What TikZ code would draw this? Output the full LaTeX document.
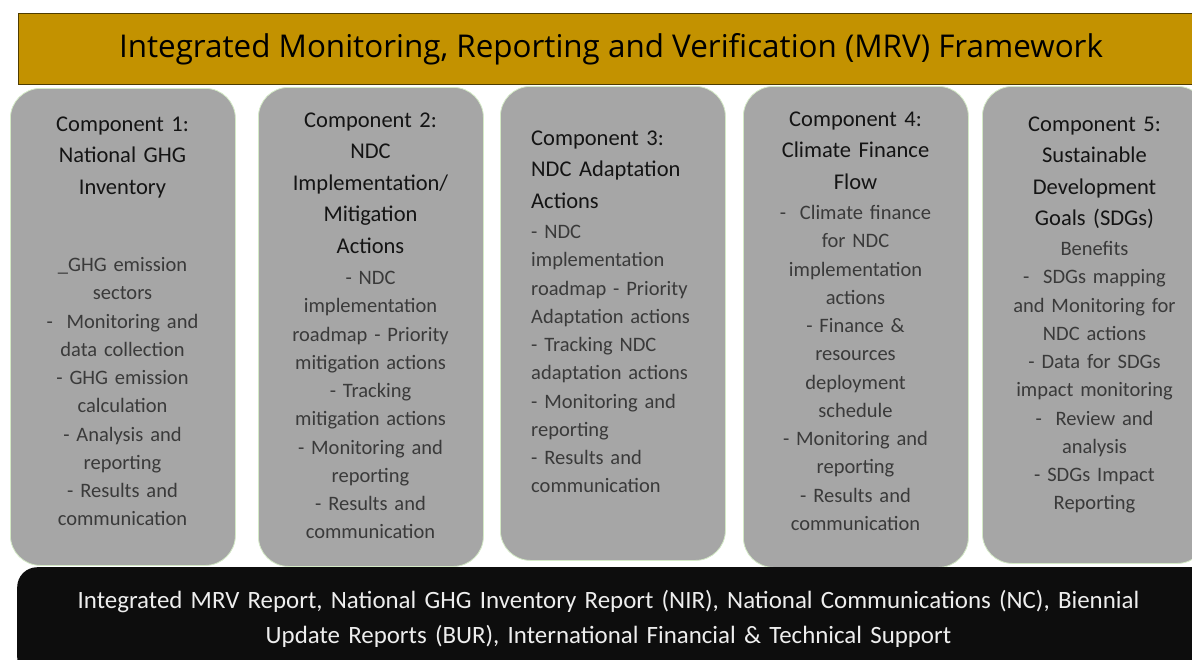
\documentclass[tikz,border=0pt]{standalone}
\usepackage{fontspec}
\setmainfont{Carlito}
\newfontfamily\titlefont{Open Sans}
\usepackage{tikz}
\usetikzlibrary{positioning}
\definecolor{titlegold}{RGB}{195, 146, 0}
\definecolor{titleedge}{RGB}{78, 60, 0}
\definecolor{compgray}{RGB}{166, 166, 166}
\definecolor{compedge}{RGB}{212, 234, 198}
\definecolor{reportblack}{RGB}{13, 13, 13}
\definecolor{headtext}{RGB}{20, 20, 20}
\definecolor{bodytext}{RGB}{58, 58, 58}
\definecolor{reporttext}{RGB}{238, 238, 238}

\begin{document}
\begin{tikzpicture}[
    x=1pt, y=-1pt,
    titlebar/.style={draw=titleedge, line width=1.3pt, fill=titlegold,
        anchor=north west, inner sep=0pt,
        minimum width=1190pt, minimum height=71pt},
    comp/.style={draw=compedge, line width=0.8pt, fill=compgray,
        rounded corners=30pt, anchor=north west, inner sep=0pt,
        minimum width=225pt},
    head/.style={text width=220pt, align=center, anchor=base, inner sep=0pt,
        text=headtext, font=\fontsize{22.5}{31.6}\selectfont},
    body/.style={text width=220pt, align=center, anchor=base, inner sep=0pt,
        text=bodytext, font=\fontsize{20.5}{28.25}\selectfont},
    report/.style={fill=reportblack, rounded corners=20pt,
        anchor=north west, inner sep=0pt,
        minimum width=1210pt, minimum height=110pt}
]
    \clip (0,0) rectangle (1192,659);

    % title bar
    \node[titlebar] (title) at (18,13) {};
    \node[anchor=base, inner sep=0pt, text=black,
        font=\titlefont\fontsize{31.4}{36}\selectfont] (titletext) at (611,57.5)
        {Integrated Monitoring, Reporting and Verification (MRV) Framework};

    % component boxes
    \node[comp, minimum height=477pt] (c1) at (10,88) {};
    \node[comp, minimum height=479pt] (c2) at (258,87) {};
    \node[comp, minimum height=474pt] (c3) at (500,86) {};
    \node[comp, minimum height=481pt] (c4) at (743,86) {};
    \node[comp, minimum height=477pt] (c5) at (982,86) {};

    % component 1
    \node[head] (h1) at (122.5,131) {Component 1:\\National GHG\\Inventory};
    \node[body] (b1) at (122.5,271.5) {\_GHG emission\\sectors\\-~ Monitoring and\\data collection\\- GHG emission\\calculation\\- Analysis and\\reporting\\- Results and\\communication};

    % component 2
    \node[head] (h2) at (370.5,127) {Component 2:\\NDC\\Implementation/\\Mitigation\\Actions};
    \node[body] (b2) at (370.5,284.5) {- NDC\\implementation\\roadmap - Priority\\mitigation actions\\- Tracking\\mitigation actions\\- Monitoring and\\reporting\\- Results and\\communication};

    % component 3
    \node[head, align=left, anchor=base west] (h3) at (531,145) {Component 3:\\NDC Adaptation\\Actions};
    \node[body, align=left, anchor=base west] (b3) at (531,238.5) {- NDC\\implementation\\roadmap - Priority\\Adaptation actions\\- Tracking NDC\\adaptation actions\\- Monitoring and\\reporting\\- Results and\\communication};

    % component 4
    \node[head] (h4) at (855.5,126) {Component 4:\\Climate Finance\\Flow};
    \node[body] (b4) at (855.5,219.5) {-~ Climate finance\\for NDC\\implementation\\actions\\- Finance \&\\resources\\deployment\\schedule\\- Monitoring and\\reporting\\- Results and\\communication};

    % component 5
    \node[head] (h5) at (1094.5,131) {Component 5:\\Sustainable\\Development\\Goals (SDGs)};
    \node[body] (b5) at (1094.5,255.5) {Benefits\\-~ SDGs mapping\\and Monitoring for\\NDC actions\\- Data for SDGs\\impact monitoring\\-~ Review and\\analysis\\- SDGs Impact\\Reporting};

    % report bar
    \node[report] (report) at (17,567) {};
    \node[text width=1160pt, align=center, anchor=base, inner sep=0pt,
        text=reporttext, font=\fontsize{24.9}{35}\selectfont] (reporttext) at (608.5,608)
        {Integrated MRV Report, National GHG Inventory Report (NIR), National Communications (NC), Biennial\\Update Reports (BUR), International Financial \& Technical Support};
\end{tikzpicture}
\end{document}
